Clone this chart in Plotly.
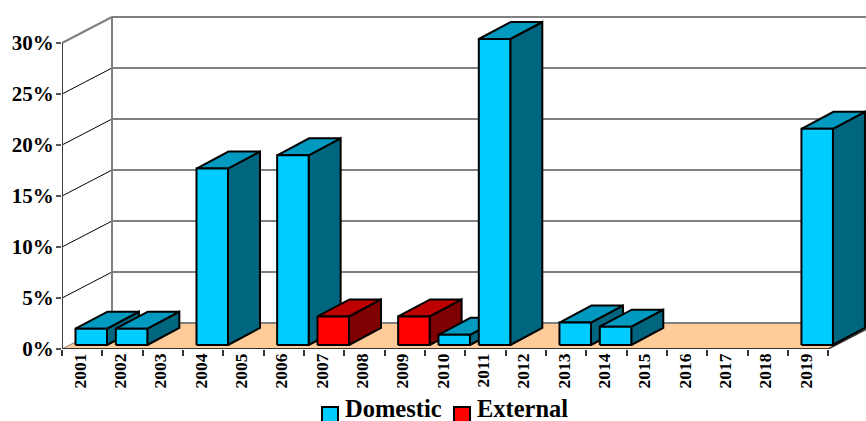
import plotly.graph_objects as go

# Annual shares, in percent; None means no bar that year
years = ["2001", "2002", "2003", "2004", "2005", "2006", "2007", "2008", "2009", "2010",
         "2011", "2012", "2013", "2014", "2015", "2016", "2017", "2018", "2019"]
domestic = [1.6, 1.6, None, 17.3, None, 18.6, None, None, None, 1.0,
            30.0, None, 2.2, 1.8, None, None, None, None, 21.2]
external = [None, None, None, None, None, None, 2.8, None, 2.8, None,
            None, None, None, None, None, None, None, None, None]
y_ticks = [0, 5, 10, 15, 20, 25, 30]
series_names = ["Domestic", "External"]

W, H = 866, 421
LEFT, BOTTOM = 62, 72
PX_PER_CAT = 40.33
PX_PER_PCT = 10.2


def ux(px):
    return px / PX_PER_CAT


def uy(px):
    return px / PX_PER_PCT


def paper_x(px):
    return (px - LEFT) / (W - LEFT)


def paper_y(px):
    return (H - BOTTOM - px) / (H - BOTTOM)


WALL_DX, WALL_DY = ux(50), uy(26)
BAR_DX, BAR_DY = ux(32), uy(17)
BAR_X0, BAR_Y0 = ux(13.5), uy(4)
BAR_W = ux(31.5)
X_END = len(years)
X_MAX = (W - LEFT) / PX_PER_CAT
Y_MAX = (H - BOTTOM) / PX_PER_PCT
GREY = "#808080"

fig = go.Figure()


def poly(xs, ys, fill, line="rgba(0,0,0,0)", width=0):
    fig.add_trace(go.Scatter(x=xs, y=ys, mode="lines", fill="toself", fillcolor=fill,
                             line=dict(color=line, width=width), showlegend=False,
                             hoverinfo="skip", cliponaxis=False))


def seg(xs, ys, color, width):
    fig.add_trace(go.Scatter(x=xs, y=ys, mode="lines", line=dict(color=color, width=width),
                             showlegend=False, hoverinfo="skip", cliponaxis=False))


# Floor of the 3D box
poly([0, WALL_DX, X_END + WALL_DX, X_END, 0], [0, WALL_DY, WALL_DY, 0, 0], "#FFCC99")

# Back wall gridlines and their diagonals on the side wall
for t in y_ticks:
    seg([WALL_DX, X_MAX + 1], [t + WALL_DY, t + WALL_DY], GREY, 2)
    if t == 30:
        seg([0, WALL_DX], [t, t + WALL_DY], GREY, 2)
    elif t > 0:
        seg([0, WALL_DX], [t, t + WALL_DY], "#000000", 1)
seg([WALL_DX, WALL_DX], [WALL_DY, 30 + WALL_DY], GREY, 2)
seg([0, WALL_DX], [0, WALL_DY], GREY, 1)

# Front edges of the box
seg([X_END, X_END + WALL_DX], [0, WALL_DY], "#333333", 1.5)
seg([0, 0], [0, 30], "#404040", 2)
seg([0, X_END], [0, 0], "#333333", 2)


def bar3d(i, value, front, top, side):
    x0 = i + BAR_X0
    x1 = x0 + BAR_W
    y0 = BAR_Y0
    y1 = value + BAR_Y0
    poly([x1, x1 + BAR_DX, x1 + BAR_DX, x1, x1], [y0, y0 + BAR_DY, y1 + BAR_DY, y1, y0],
         side, "#000000", 2)
    poly([x0, x0 + BAR_DX, x1 + BAR_DX, x1, x0], [y1, y1 + BAR_DY, y1 + BAR_DY, y1, y1],
         top, "#000000", 2)
    poly([x0, x1, x1, x0, x0], [y0, y0, y1, y1, y0], front, "#000000", 2)


# Bars are painted left to right so nearer faces cover earlier sides
for i in range(len(years)):
    if domestic[i] is not None:
        bar3d(i, domestic[i], "#00CCFF", "#0099BF", "#00667F")
    if external[i] is not None:
        bar3d(i, external[i], "#FF0000", "#BF0000", "#7F0000")

# Key below the plot: one swatch and one label per series
shapes = []
annotations = []
for name, colour, swatch_x, text_x in zip(series_names, ["#00CCFF", "#FF0000"], [322, 454], [344, 476]):
    shapes.append(dict(type="rect", xref="paper", yref="paper",
                       x0=paper_x(swatch_x), x1=paper_x(swatch_x + 16),
                       y0=paper_y(407), y1=paper_y(424),
                       fillcolor=colour, line=dict(color="#000000", width=2)))
    annotations.append(dict(text=f"<b>{name}</b>", xref="paper", yref="paper",
                            x=paper_x(text_x), y=paper_y(423), xanchor="left", yanchor="bottom",
                            showarrow=False, font=dict(size=24.5), borderpad=0))

serif = "Liberation Serif"
fig.update_layout(
    width=W, height=H, margin=dict(l=LEFT, r=0, t=0, b=BOTTOM, autoexpand=False),
    paper_bgcolor="white", plot_bgcolor="white",
    font=dict(family=serif, color="#000000"),
    shapes=shapes, annotations=annotations, showlegend=False,
    xaxis=dict(range=[0, X_MAX], showgrid=False, zeroline=False, showline=False,
               tickmode="array", tickvals=[i + 0.45 for i in range(len(years))],
               ticktext=[f"<b>{y}</b>" for y in years], tickangle=-90, ticklen=0,
               tickfont=dict(size=17.5), ticks="",
               minor=dict(tickmode="array", tickvals=list(range(len(years) + 1)),
                          ticks="outside", ticklen=6, tickwidth=2, tickcolor="#333333",
                          showgrid=False)),
    yaxis=dict(range=[0, Y_MAX], showgrid=False, zeroline=False, showline=False,
               tickmode="array", tickvals=y_ticks,
               ticktext=[f"<b>{t}%</b>" for t in y_ticks],
               tickfont=dict(size=21), ticks="outside", ticklen=5, tickwidth=2,
               tickcolor="#555555", ticklabelstandoff=-2),
)

fig.write_html("out.html", config=dict(displayModeBar=False))
